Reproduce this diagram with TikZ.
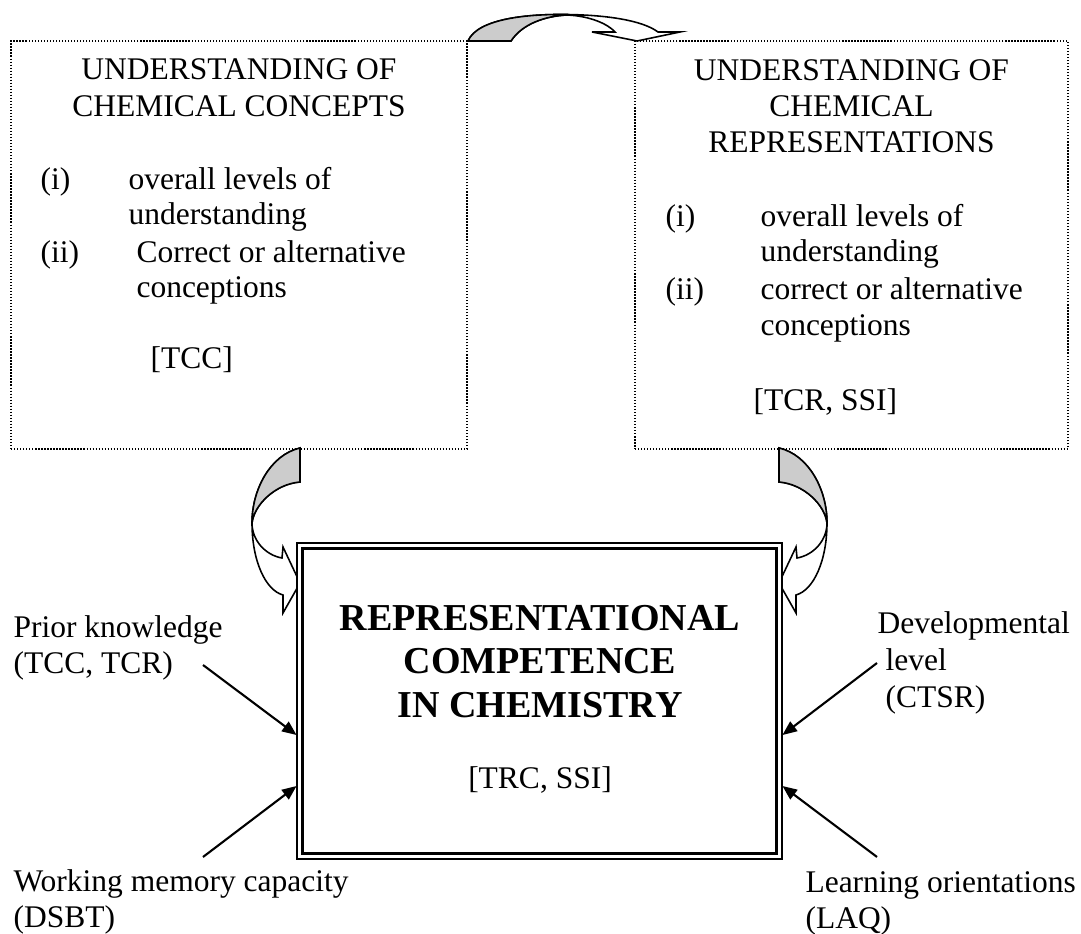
\documentclass[tikz,border=0pt]{standalone}
\usepackage{fontspec}
\setmainfont{Liberation Serif}
\usetikzlibrary{arrows.meta,calc}

\tikzset{
  txt/.style={inner sep=0pt, anchor=base west, font=\fontsize{12}{13.8}\selectfont},
  ctxt/.style={txt, anchor=base},
  bigtxt/.style={inner sep=0pt, anchor=base, font=\fontsize{14.5}{16.5}\selectfont\bfseries},
  dotbox/.style={draw, line width=0.5pt, dash pattern=on 0.5pt off 0.65pt},
  mainbox/.style={draw, double, line width=0.9pt, double distance=1.1pt, fill=white},
  infl/.style={line width=0.8pt, -{Triangle[length=5.5pt,width=4.5pt]}},
  band/.style={draw, line width=0.6pt, fill=white},
  bandback/.style={draw, line width=0.6pt, fill=gray!40},
}

\begin{document}
\begin{tikzpicture}[x=0.381pt,y=-0.381pt]
    \useasboundingbox (0,0) rectangle (1081,934);

    % understanding of concepts
    \node[dotbox, minimum width=173.7pt, minimum height=155.4pt] (ccbox) at (239,245) {};
    \node[ctxt] (cct1) at (239,80) {UNDERSTANDING OF};
    \node[ctxt] (cct2) at (239,117) {CHEMICAL CONCEPTS};
    \node[txt] (cci) at (40,190) {(i)};
    \node[txt] (cci1) at (128,190) {overall levels of};
    \node[txt] (cci2) at (128,225) {understanding};
    \node[txt] (ccii) at (40,263) {(ii)};
    \node[txt] (ccii1) at (136,263) {Correct or alternative};
    \node[txt] (ccii2) at (136,298) {conceptions};
    \node[txt] (cctag) at (150,368) {[TCC]};

    % understanding of representations
    \node[dotbox, minimum width=165pt, minimum height=155.4pt] (crbox) at (851.5,245) {};
    \node[ctxt] (crt1) at (851.5,81) {UNDERSTANDING OF};
    \node[ctxt] (crt2) at (851.5,117) {CHEMICAL};
    \node[ctxt] (crt3) at (851.5,153) {REPRESENTATIONS};
    \node[txt] (cri) at (665,227) {(i)};
    \node[txt] (cri1) at (760,227) {overall levels of};
    \node[txt] (cri2) at (760,262) {understanding};
    \node[txt] (crii) at (665,300) {(ii)};
    \node[txt] (crii1) at (760,300) {correct or alternative};
    \node[txt] (crii2) at (760,335) {conceptions};
    \node[txt] (crtag) at (753,410) {[TCR, SSI]};

    % curved arrow between the boxes
    \draw[band] (468,41) .. controls (478,18) and (530,14) .. (567,14.5)
        .. controls (605,15) and (642,20) .. (658,32) -- (680,32) -- (637,41) -- (592,32) -- (615,32)
        .. controls (608,24) and (590,16) .. (567,15) .. controls (545,16) and (522,24) .. (511,41) -- cycle;
    \draw[bandback] (468,41) .. controls (478,18) and (530,14) .. (567,14.5) -- (567,15)
        .. controls (545,16) and (522,24) .. (511,41) -- cycle;

    % curved arrows down to the competence box
    \draw[band] (300,448) .. controls (270,455) and (252,490) .. (252,523)
        .. controls (252,560) and (265,590) .. (283,595) -- (283,613) -- (300,583) -- (283,547) -- (282,558)
        .. controls (265,555) and (252,540) .. (252,523) .. controls (254,505) and (275,484) .. (300,482) -- cycle;
    \draw[bandback] (300,448) .. controls (270,455) and (252,490) .. (252,523)
        .. controls (254,505) and (275,484) .. (300,482) -- cycle;
    \draw[band] (779,448) .. controls (809,455) and (827,490) .. (827,523)
        .. controls (827,560) and (814,590) .. (796,595) -- (796,613) -- (779,583) -- (796,547) -- (797,558)
        .. controls (814,555) and (827,540) .. (827,523) .. controls (825,505) and (804,484) .. (779,482) -- cycle;
    \draw[bandback] (779,448) .. controls (809,455) and (827,490) .. (827,523)
        .. controls (825,505) and (804,484) .. (779,482) -- cycle;

    % representational competence
    \node[mainbox, minimum width=182.7pt, minimum height=118.3pt] (main) at (539.5,701) {};
    \node[bigtxt] (rc1) at (540,630) {REPRESENTATIONAL};
    \node[bigtxt] (rc2) at (540,673) {COMPETENCE};
    \node[bigtxt] (rc3) at (540,717) {IN CHEMISTRY};
    \node[ctxt] (rctag) at (540,788) {[TRC, SSI]};

    % influencing factors
    \node[txt] (prior1) at (13,637) {Prior knowledge};
    \node[txt] (prior2) at (13,673) {(TCC, TCR)};
    \node[txt] (wmc1) at (13,891) {Working memory capacity};
    \node[txt] (wmc2) at (13,927) {(DSBT)};
    \node[txt] (dev1) at (877,633) {Developmental};
    \node[txt] (dev2) at (885,670) {level};
    \node[txt] (dev3) at (885,707) {(CTSR)};
    \node[txt] (lo1) at (805,892) {Learning orientations};
    \node[txt] (lo2) at (805,928) {(LAQ)};

    \coordinate (priortail) at (203,665);
    \coordinate (wmctail) at (203,857);
    \coordinate (devtail) at (877,663);
    \coordinate (lotail) at (877,857);
    \draw[infl] (priortail) -- ($(main.west)+(-2,34)$);
    \draw[infl] (wmctail) -- ($(main.west)+(-2,85)$);
    \draw[infl] (devtail) -- ($(main.east)+(2,34)$);
    \draw[infl] (lotail) -- ($(main.east)+(2,85)$);
\end{tikzpicture}
\end{document}
